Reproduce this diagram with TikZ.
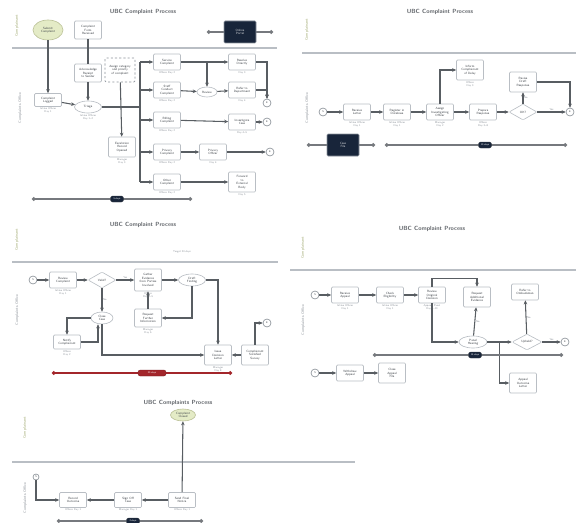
\documentclass[tikz,border=0pt]{standalone}
\usepackage{tikz}
\usetikzlibrary{positioning, arrows.meta, shapes.geometric, calc}
\definecolor{ink}{HTML}{3B4046}
\definecolor{muted}{HTML}{8C9299}
\definecolor{linegray}{HTML}{B9BEC4}
\definecolor{lane}{HTML}{9FA86E}
\definecolor{leaf}{HTML}{E4EBC6}
\definecolor{navy}{HTML}{18253A}
\definecolor{alert}{HTML}{A3262B}
\tikzset{
  nd/.style={rectangle, rounded corners=1.5pt, draw=linegray, line width=0.9pt,
    fill=white, text=ink, font=\sffamily\fontsize{4.4}{5}\selectfont, align=center,
    inner sep=1.2pt, minimum width=13.5mm, minimum height=8mm},
  ndo/.style={nd, ellipse, minimum width=13.5mm, minimum height=6mm},
  ndq/.style={nd, diamond, aspect=1.8, minimum width=14mm, minimum height=8mm, inner sep=0pt},
  ndg/.style={nd, ellipse, fill=leaf, draw=lane!70, minimum width=15mm, minimum height=10mm},
  ndd/.style={nd, fill=navy, draw=navy!50, text=white!85!navy, minimum width=16mm, minimum height=11mm},
  ndt/.style={nd, dashed, draw=muted},
  ends/.style={circle, draw=muted, line width=0.9pt, fill=white, text=ink,
    font=\sffamily\fontsize{3.6}{4}\selectfont, inner sep=0pt, minimum size=4mm},
  pill/.style={rounded corners=3pt, fill=navy, draw=ink, minimum width=6.5mm, minimum height=3mm,
    inner sep=0pt, text=white, font=\sffamily\fontsize{3.5}{4}\selectfont},
  pillr/.style={pill, fill=alert, draw=alert!70!black, minimum width=14mm},
  flow/.style={-{Stealth[length=2mm, width=1.8mm]}, line width=1.5pt, color=ink!85},
  link/.style={line width=1.5pt, color=ink!85},
  span/.style={{Circle[length=1.8mm]}-{Circle[length=1.8mm]}, line width=2.2pt, color=ink!70},
  spanr/.style={span, color=alert},
  divide/.style={line width=3.5pt, color=linegray},
  ttl/.style={font=\sffamily\bfseries\fontsize{8.5}{10}\selectfont, text=ink!80},
  lanel/.style={rotate=90, font=\sffamily\fontsize{5.5}{6}\selectfont, text=lane},
  laneg/.style={lanel, text=muted},
  lbl/.style={font=\sffamily\fontsize{3.8}{4.3}\selectfont, text=muted, align=center, inner sep=1pt},
}

\begin{document}
\begin{tikzpicture}[x=0.5mm, y=-0.5mm]
  \useasboundingbox (0,0) rectangle (576,523);

  % top left
  \node[ttl] (h1) at (143,12) {UBC Complaint Process};
  \node[lanel] (u1) at (17,26) {Complainant};
  \node[laneg] (w1) at (20,108) {Complaints Office};
  \draw[divide] (12,48) -- (277,48);
  \node[ndg] (g1) at (48,30) {Submit\\Complaint};
  \node[nd, minimum height=9mm] (a1) at (88,30) {Complaint\\Form\\Received};
  \coordinate (d1l) at (207,32);
  \coordinate (d1r) at (273,32);
  \draw[span] (d1l) -- (d1r);
  \node[ndd] (d1) at (240,32) {Online\\Portal};
  \node[nd, minimum height=6.5mm, label={[lbl]below:Intake Officer\\Day 1}] (b1) at (48,100) {Complaint\\Logged};
  \node[ndo, label={[lbl]below:Intake Officer\\Day 1--2}] (o1) at (88,107) {Triage};
  \node[nd, minimum height=9mm] (b2) at (88,73) {Acknowledge\\Receipt\\to Sender};
  \node[ndt, minimum width=15mm, minimum height=12mm] (n1) at (120,70) {Assign category\\and priority\\of complaint};
  \node[nd, minimum height=10mm, label={[lbl]below:Manager\\Day 3}] (b3) at (122,147) {Escalation\\Record\\Opened};
  \coordinate (tr) at (140,107);
  \coordinate (trT) at (140,62);
  \coordinate (trB) at (140,182);
  \node[nd, label={[lbl]below:Officer Day 2}] (c1) at (167,62) {Service\\Complaint};
  \node[nd, label={[lbl]below:Officer Day 2}] (c2) at (167,90) {Staff\\Conduct\\Complaint};
  \node[nd, label={[lbl]below:Officer Day 2}] (c3) at (167,120) {Billing\\Complaint};
  \node[nd, label={[lbl]below:Officer Day 2}] (c4) at (167,152) {Privacy\\Complaint};
  \node[nd, label={[lbl]below:Officer Day 2}] (c5) at (167,182) {Other\\Complaint};
  \node[ndo, minimum width=10mm, minimum height=5mm] (o2) at (207,92) {Review};
  \node[nd, label={[lbl]below:Day 3}] (r1) at (242,62) {Resolve\\Directly};
  \node[nd, label={[lbl]below:Day 4}] (r2) at (242,90) {Refer to\\Department};
  \node[nd, label={[lbl]below:Day 4--5}] (r3) at (242,122) {Investigate\\Case};
  \node[nd, label={[lbl]below:Day 4}] (r4) at (213,152) {Privacy\\Officer};
  \node[nd, minimum height=10mm, label={[lbl]below:Day 5}] (r5) at (242,182) {Forward\\to\\External\\Body};
  \node[ends] (e1) at (270,152) {E};
  \node[ends] (e2) at (267,103) {E};
  \node[ends] (e3) at (267,122) {E};
  \draw[flow] (g1) -- (b1);
  \draw[flow] (b1) -- (o1);
  \draw[link] (a1) -- (b2);
  \draw[flow] (b2) -- (o1);
  \draw[flow] (n1) -- (b3);
  \draw[link] (o1.east) -- (tr);
  \draw[link] (trT) -- (trB);
  \draw[flow] (trT) -- (c1);
  \draw[flow] (tr |- c2) -- (c2);
  \draw[flow] (tr |- c3) -- (c3);
  \draw[flow] (tr |- c4) -- (c4);
  \draw[flow] (trB) -- (c5);
  \draw[flow] (c1) -- (r1);
  \draw[flow] (c1.east -| o2) -- (o2);
  \draw[flow] (c2) -- (o2);
  \draw[flow] (o2) -- (r2);
  \draw[flow] (c3) -- (r3);
  \draw[flow] (c4) -- (r4);
  \draw[flow] (r4) -- (e1);
  \draw[flow] (c5) -- (r5);
  \draw[flow] (r1.east) -| (e2);
  \draw[flow] (r2.east) -| (e2);
  \draw[flow] (r3) -- (e3);
  \coordinate (t1a) at (32,199);
  \coordinate (t1b) at (192,199);
  \draw[span] (t1a) -- (t1b);
  \node[pill] (t1p) at (117,199) {5 days};

  % top right
  \node[ttl] (h2) at (440,12) {UBC Complaint Process};
  \node[lanel] (u2) at (307,30) {Complainant};
  \node[laneg] (w2) at (307,108) {Complaints Office};
  \draw[divide] (302,53) -- (576,53);
  \node[ends] (s2) at (323,112) {S};
  \node[nd, label={[lbl]below:Intake Officer\\Day 1}] (p1) at (357,112) {Receive\\Letter};
  \node[nd, label={[lbl]below:Intake Officer\\Day 1}] (p2) at (397,112) {Register in\\Database};
  \node[nd, label={[lbl]below:Manager\\Day 2}] (p3) at (440,112) {Assign\\Investigating\\Officer};
  \node[nd, label={[lbl]below:Officer\\Day 3--8}] (p4) at (483,112) {Prepare\\Response};
  \node[ndq] (q1) at (523,112) {OK?};
  \node[ends] (e4) at (570,112) {E};
  \node[nd, minimum height=10mm, label={[lbl]below:Officer\\Day 3}] (p5) at (470,70) {Inform\\Complainant\\of Delay};
  \node[nd, minimum height=10mm] (p6) at (523,82) {Revise\\Draft\\Response};
  \draw[flow] (s2) -- (p1);
  \draw[flow] (p1) -- (p2);
  \draw[flow] (p2) -- (p3);
  \draw[flow] (p3) -- (p4);
  \draw[flow] (p4) -- (q1);
  \draw[flow] (q1) -- node[lbl, above] {Yes} (e4);
  \draw[flow] (p3.north) |- (p5.west);
  \draw[flow] (q1) -- node[lbl, right] {No} (p6);
  \draw[flow] (p6.east) -| (e4);
  \coordinate (t2a) at (307,145);
  \coordinate (t2b) at (375,145);
  \coordinate (t3a) at (385,145);
  \coordinate (t3b) at (567,145);
  \draw[span] (t2a) -- (t2b);
  \draw[span] (t3a) -- (t3b);
  \node[ndd] (d2) at (343,145) {Case\\File};
  \node[pill] (t3p) at (485,145) {10 days};

  % middle left
  \node[ttl] (h3) at (143,225) {UBC Complaint Process};
  \node[lbl] (x3) at (182,252) {Target 20 days};
  \node[lanel] (u3) at (17,240) {Complainant};
  \node[laneg] (w3) at (17,310) {Complaints Office};
  \draw[divide] (12,262) -- (278,262);
  \node[ends] (s3) at (33,280) {S};
  \node[nd, label={[lbl]below:Intake Officer\\Day 1}] (m1) at (63,280) {Review\\Complaint};
  \node[ndq] (q2) at (102,280) {Valid?};
  \node[nd, minimum height=11mm, label={[lbl]below:Officer\\Day 2--5}] (m2) at (148,280) {Gather\\Evidence\\from Parties\\Involved};
  \node[ndo] (o3) at (192,280) {Draft\\Finding};
  \node[nd, minimum height=9mm, label={[lbl]below:Manager\\Day 6}] (m3) at (148,318) {Request\\Further\\Information};
  \node[ndo, minimum width=11mm] (q3) at (102,318) {Close\\Case};
  \node[nd, minimum height=7mm, label={[lbl]below:Officer\\Day 2}] (m4) at (67,342) {Notify\\Complainant};
  \node[nd, minimum height=10mm, label={[lbl]below:Manager\\Day 8}] (m5) at (218,355) {Issue\\Decision\\Letter};
  \node[nd, minimum height=10mm] (m6) at (255,355) {Complainant\\Satisfied\\Survey};
  \node[ends] (e5) at (267,323) {E};
  \draw[flow] (s3) -- (m1);
  \draw[flow] (m1) -- (q2);
  \draw[flow] (q2) -- node[lbl, above] {Yes} (m2);
  \draw[flow] (m2) -- (o3);
  \draw[flow] (q2) -- node[lbl, right] {No} (q3);
  \draw[flow] (m3) -- (m2);
  \draw[flow] (o3.south) |- (m3.east);
  \draw[flow] (q3.west) -| (m4.north);
  \draw[flow] (m4.east) -| ([xshift=-2mm]q3.south);
  \draw[flow] (q3.south) |- (m5.west);
  \draw[flow] (o3.east) -| (m5.north);
  \draw[flow] (m6) -- (m5);
  \draw[flow] (m6.north) |- (e5.west);
  \coordinate (t4a) at (52,373);
  \coordinate (t4b) at (232,373);
  \draw[spanr] (t4a) -- (t4b);
  \node[pillr] (t4p) at (152,373) {20 days};

  % middle right
  \node[ttl] (h4) at (432,229) {UBC Complaint Process};
  \node[lanel] (u4) at (303,248) {Complainant};
  \node[laneg] (w4) at (303,320) {Complaints Office};
  \draw[divide] (290,270) -- (576,270);
  \node[ends] (s4) at (315,295) {S};
  \node[nd, label={[lbl]below:Intake Officer\\Day 1}] (k1) at (345,295) {Receive\\Appeal};
  \node[nd, label={[lbl]below:Intake Officer\\Day 1}] (k2) at (390,295) {Check\\Eligibility};
  \node[nd, label={[lbl]below:Appeals Panel\\Day 2--10}] (k3) at (432,295) {Review\\Original\\Decision};
  \node[nd, minimum height=10mm] (k4) at (477,297) {Request\\Additional\\Evidence};
  \node[nd] (k5) at (525,292) {Refer to\\Ombudsman};
  \node[ndo, minimum width=14mm] (k6) at (473,342) {Panel\\Hearing};
  \node[ndq, minimum width=15mm] (q4) at (527,342) {Upheld?};
  \node[ends] (e6) at (565,342) {E};
  \node[nd, minimum height=10mm] (k7) at (523,383) {Appeal\\Outcome\\Letter};
  \draw[flow] (s4) -- (k1);
  \draw[flow] (k1) -- (k2);
  \draw[flow] (k2) -- (k3);
  \draw[flow] (k3.north) |- ($(k4.north)+(0,-8)$) -- (k4.north);
  \draw[flow] (k3.south) |- (k6.west);
  \draw[flow] (k6) -- node[lbl, right] {No} (k4);
  \draw[flow] (k6) -- (q4);
  \draw[flow] (q4) -- node[lbl, right] {No} (k5);
  \draw[flow] (q4) -- node[lbl, above] {Yes} (e6);
  \draw[flow] ($(k6.east)!0.5!(q4.west)$) |- (k7.west);
  \coordinate (t5a) at (373,355);
  \coordinate (t5b) at (563,355);
  \draw[span] (t5a) -- (t5b);
  \node[pill] (t5p) at (475,355) {15 days};
  \node[ends] (s5) at (315,373) {S};
  \node[nd] (k8) at (350,373) {Withdraw\\Appeal};
  \node[nd, minimum height=10mm] (k9) at (392,373) {Close\\Appeal\\File};
  \draw[flow] (s5) -- (k8);
  \draw[flow] (k8) -- (k9);

  % bottom left
  \node[ttl] (h5) at (178,403) {UBC Complaints Process};
  \node[ndg, minimum width=12.5mm, minimum height=6mm] (g2) at (183,415) {Complaint\\Closed};
  \node[lanel] (u5) at (25,428) {Complainant};
  \node[laneg] (w5) at (25,498) {Complaints Office};
  \draw[divide] (12,462) -- (355,462);
  \node[ends, minimum size=3mm] (s6) at (36,477) {S};
  \node[nd, minimum height=7.5mm, label={[lbl]below:Officer Day 1}] (j1) at (73,500) {Record\\Outcome};
  \node[nd, minimum height=7.5mm, label={[lbl]below:Manager Day 1}] (j2) at (128,500) {Sign Off\\Case};
  \node[nd, minimum height=7.5mm, label={[lbl]below:Officer Day 1}] (j3) at (182,500) {Send Final\\Notice};
  \draw[flow] (s6.south) |- (j1.west);
  \draw[flow] (j2) -- (j1);
  \draw[flow] (j3) -- (j2);
  \draw[flow] (j3) -- (g2);
  \coordinate (t6a) at (57,521);
  \coordinate (t6b) at (203,521);
  \draw[span] (t6a) -- (t6b);
  \node[pill] (t6p) at (133,521) {2 days};
\end{tikzpicture}
\end{document}
